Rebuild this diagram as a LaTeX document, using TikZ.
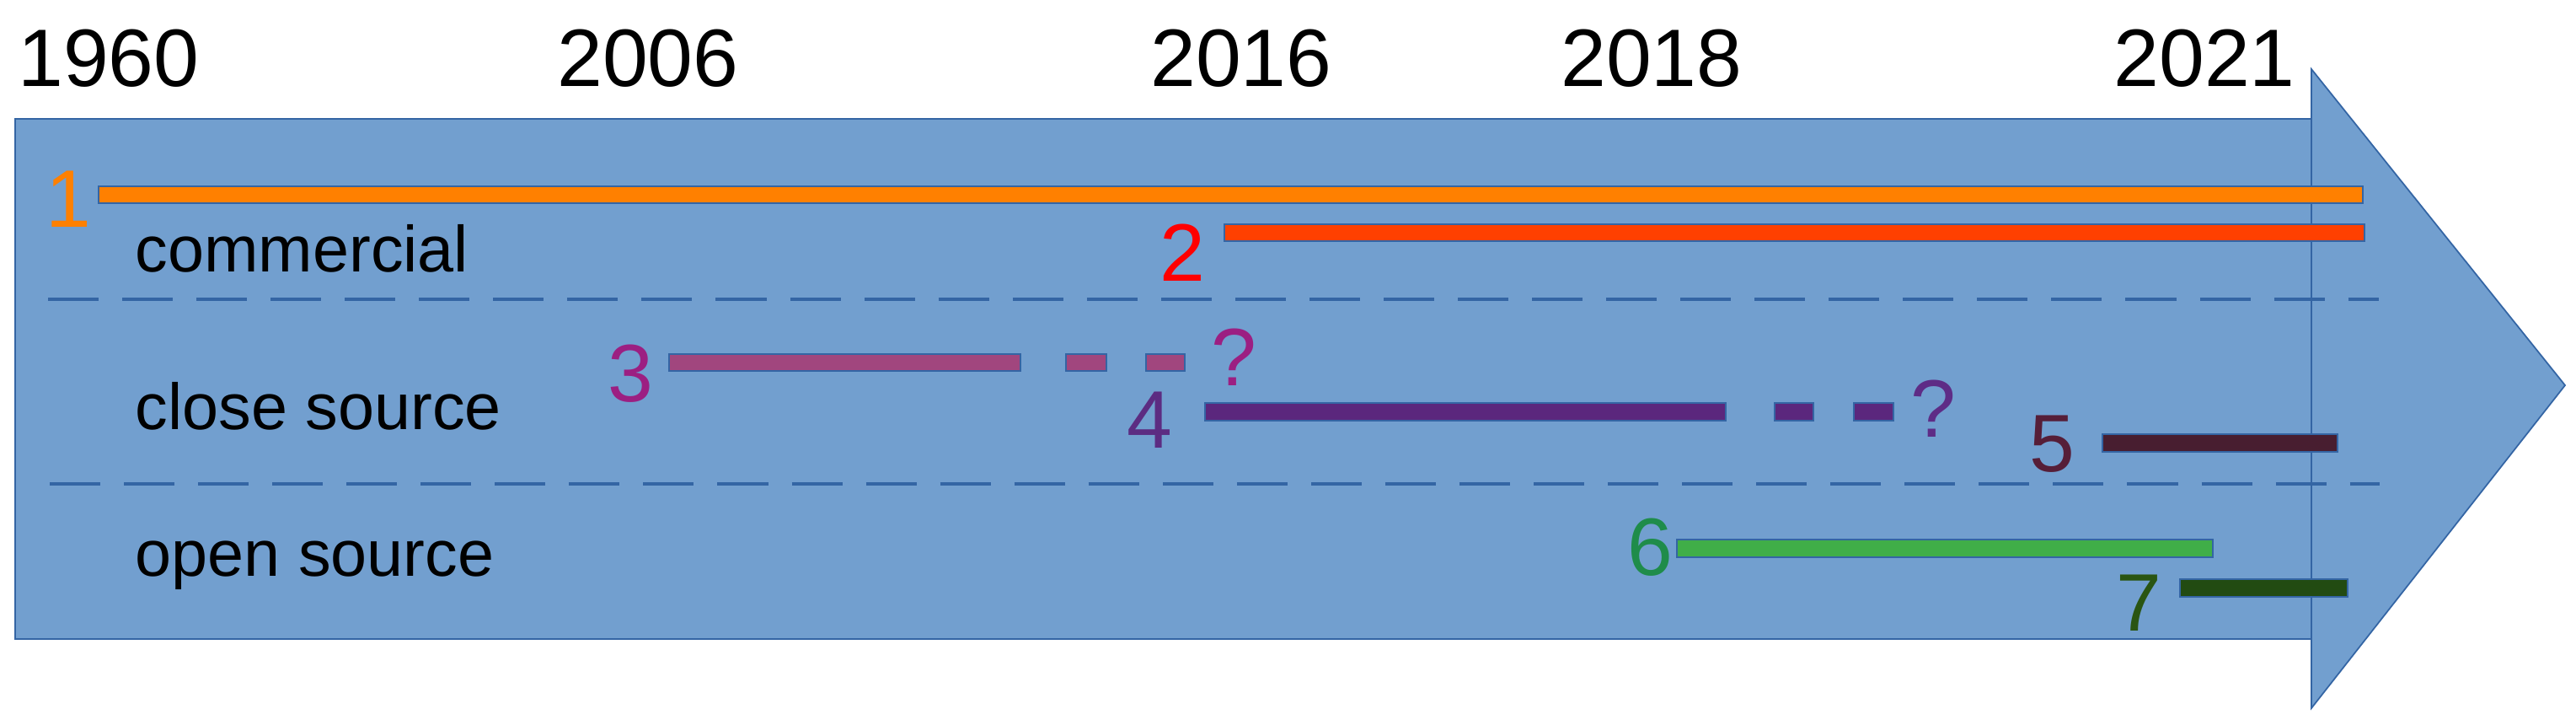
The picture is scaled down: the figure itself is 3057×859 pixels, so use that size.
\documentclass[tikz,border=0pt]{standalone}
\usepackage{fontspec}
\setmainfont{Liberation Sans}
\definecolor{arrowfill}{HTML}{729FCF}
\definecolor{arrowline}{HTML}{3465A4}
\definecolor{sepline}{HTML}{3465A4}
\definecolor{cOne}{HTML}{FF8000}
\definecolor{cTwoBar}{HTML}{FF4000}
\definecolor{cTwo}{HTML}{FF0000}
\definecolor{cThreeBar}{HTML}{A1467E}
\definecolor{cThree}{HTML}{9C1F82}
\definecolor{cFourBar}{HTML}{5B277D}
\definecolor{cFour}{HTML}{5C2C82}
\definecolor{cFourQ}{HTML}{5E2C86}
\definecolor{cFiveBar}{HTML}{481E30}
\definecolor{cFive}{HTML}{561E38}
\definecolor{cSixBar}{HTML}{40AE48}
\definecolor{cSix}{HTML}{1F8C4A}
\definecolor{cSevenBar}{HTML}{224B12}
\definecolor{cSeven}{HTML}{2A5512}
\tikzset{
  year/.style={anchor=base, inner sep=0pt, font=\fontsize{27.5}{30}\selectfont},
  num/.style={anchor=base, inner sep=0pt, font=\fontsize{27.5}{30}\selectfont},
  cat/.style={anchor=base west, inner sep=0pt, font=\fontsize{22}{26}\selectfont},
  bar/.style={draw=arrowline, line width=0.4pt},
  sep/.style={draw=sepline, line width=1.4pt, dash pattern=on 0.6cm off 0.28cm},
  arrowbody/.style={fill=arrowfill, draw=arrowline, line width=0.5pt}
}
\begin{document}
\begin{tikzpicture}[x=0.01cm, y=-0.01cm]
\useasboundingbox (0,0) rectangle (3057,859);
% arrow body
\path[arrowbody] (18,141) rectangle (2743,758);
\path[arrowbody] (2743,82) -- (3044,457) -- (2743,840) -- cycle;
% years
\node[year] (y1960) at (129,102) {1960};
\node[year] (y2006) at (769,102) {2006};
\node[year] (y2016) at (1473,102) {2016};
\node[year] (y2018) at (1960,102) {2018};
\node[year] (y2021) at (2616,102) {2021};
% category labels
\node[cat] (lcom) at (160,322) {commercial};
\node[cat] (lclose) at (160,509) {close source};
\node[cat] (lopen) at (160,683) {open source};
% separators
\draw[sep] (57,355) -- (2823,355);
\draw[sep] (59,574) -- (2824,574);
% bars
\path[bar, fill=cOne] (117,221) rectangle (2804,241);
\path[bar, fill=cTwoBar] (1453,266) rectangle (2806,286);
\path[bar, fill=cThreeBar] (794,420) rectangle (1211,440);
\path[bar, fill=cThreeBar] (1265,420) rectangle (1313,440);
\path[bar, fill=cThreeBar] (1360,420) rectangle (1406,440);
\path[bar, fill=cFourBar] (1430,478) rectangle (2048,499);
\path[bar, fill=cFourBar] (2106,478) rectangle (2152,499);
\path[bar, fill=cFourBar] (2200,478) rectangle (2247,499);
\path[bar, fill=cFiveBar] (2495,515) rectangle (2774,536);
\path[bar, fill=cSixBar] (1990,640) rectangle (2626,661);
\path[bar, fill=cSevenBar] (2587,687) rectangle (2786,708);
% numbers
\node[num, text=cOne] (n1) at (81,269) {1};
\node[num, text=cTwo] (n2) at (1403,333) {2};
\node[num, text=cThree] (n3) at (748,476) {3};
\node[num, text=cThree] (q3) at (1464,457) {?};
\node[num, text=cFour] (n4) at (1364,531) {4};
\node[num, text=cFourQ] (q4) at (2294,518) {?};
\node[num, text=cFive] (n5) at (2435,559) {5};
\node[num, text=cSix] (n6) at (1958,682) {6};
\node[num, text=cSeven] (n7) at (2538,748) {7};
\end{tikzpicture}
\end{document}
